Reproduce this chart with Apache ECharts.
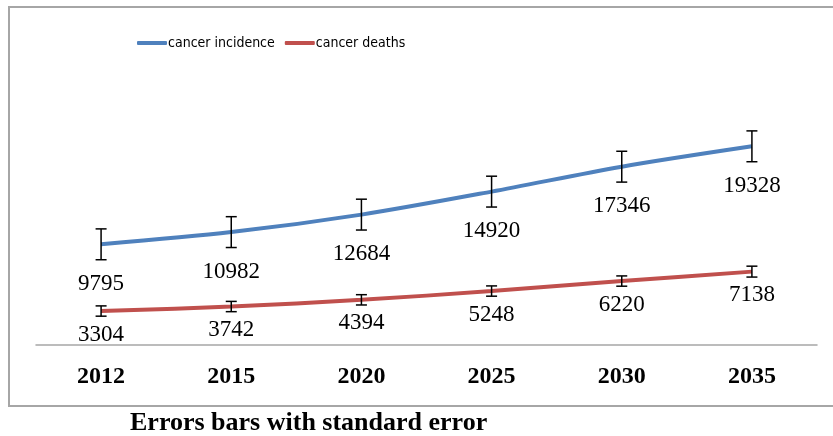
<!DOCTYPE html>
<html>
<head>
<meta charset="utf-8">
<script src="https://cdn.jsdelivr.net/npm/echarts@6/dist/echarts.min.js"></script>
<style>
  html, body { margin: 0; padding: 0; background: #fff; }
  #chart { width: 833px; height: 436px; }
</style>
</head>
<body>
<div id="chart"></div>
<script>
// data
var years = ['2012', '2015', '2020', '2025', '2030', '2035']
var incidence = [9795, 10982, 12684, 14920, 17346, 19328]
var deaths = [3304, 3742, 4394, 5248, 6220, 7138]
var incidenceErr = [1500, 1500, 1500, 1500, 1500, 1500]
var deathsErr = [500, 500, 500, 500, 500, 530]

var blue = '#4f81bd'
var red = '#c0504d'

function errorData (vals, errs) {
  return vals.map(function (v, i) { return [i, v - errs[i], v + errs[i]] })
}

// draws the whisker and the two caps
function renderError (params, api) {
  var lo = api.coord([api.value(0), api.value(1)])
  var hi = api.coord([api.value(0), api.value(2)])
  var half = 5.5
  var style = { stroke: '#000', lineWidth: 1.5 }
  return {
    type: 'group',
    children: [
      { type: 'line', shape: { x1: lo[0], y1: lo[1], x2: hi[0], y2: hi[1] }, style: style },
      { type: 'line', shape: { x1: lo[0] - half, y1: lo[1], x2: lo[0] + half, y2: lo[1] }, style: style },
      { type: 'line', shape: { x1: hi[0] - half, y1: hi[1], x2: hi[0] + half, y2: hi[1] }, style: style }
    ]
  }
}

var labelStyle = {
  show: true,
  position: 'bottom',
  fontFamily: 'Liberation Serif',
  fontSize: 23,
  color: '#000'
}

var chart = echarts.init(document.getElementById('chart'))
var option = {
  animation: false,
  legend: {
    data: ['cancer incidence', 'cancer deaths'],
    top: 31,
    left: 132,
    icon: 'roundRect',
    itemWidth: 30,
    itemHeight: 4,
    itemGap: 10,
    textStyle: {
      fontFamily: '"DejaVu Sans Condensed", "Liberation Sans Narrow", sans-serif',
      fontSize: 14,
      color: '#000',
      padding: [0, 0, 0, -4]
    }
  },
  graphic: [
    {
      type: 'rect',
      shape: { x: 9, y: 7, width: 840, height: 399 },
      style: { fill: 'none', stroke: '#a6a6a6', lineWidth: 2 },
      silent: true
    },
    {
      type: 'text',
      left: 130,
      top: 410,
      style: {
        text: 'Errors bars with standard error',
        font: 'bold 26px "Liberation Serif", serif',
        fill: '#000'
      }
    }
  ],
  grid: { left: 36, right: 16, top: 88, bottom: 91 },
  xAxis: {
    type: 'category',
    data: years,
    axisLine: { lineStyle: { color: '#a6a6a6', width: 1.5 } },
    axisTick: { show: false },
    axisLabel: {
      margin: 20,
      fontFamily: 'Liberation Serif',
      fontWeight: 'bold',
      fontSize: 24,
      color: '#000'
    }
  },
  yAxis: {
    type: 'value',
    min: 0,
    max: 25000,
    show: false,
    splitLine: { show: false }
  },
  series: [
    {
      name: 'cancer incidence',
      type: 'line',
      data: incidence,
      smooth: 0.3,
      symbol: 'circle',
      symbolSize: 0,
      lineStyle: { color: blue, width: 4 },
      itemStyle: { color: blue },
      label: Object.assign({ distance: 28 }, labelStyle),
      z: 3
    },
    {
      name: 'cancer deaths',
      type: 'line',
      data: deaths,
      smooth: 0.3,
      symbol: 'circle',
      symbolSize: 0,
      lineStyle: { color: red, width: 4 },
      itemStyle: { color: red },
      label: Object.assign({ distance: 12 }, labelStyle),
      z: 3
    },
    {
      type: 'custom',
      renderItem: renderError,
      data: errorData(incidence, incidenceErr),
      encode: { x: 0, y: [1, 2] },
      z: 4
    },
    {
      type: 'custom',
      renderItem: renderError,
      data: errorData(deaths, deathsErr),
      encode: { x: 0, y: [1, 2] },
      z: 4
    }
  ]
}
chart.setOption(option)
</script>
</body>
</html>
